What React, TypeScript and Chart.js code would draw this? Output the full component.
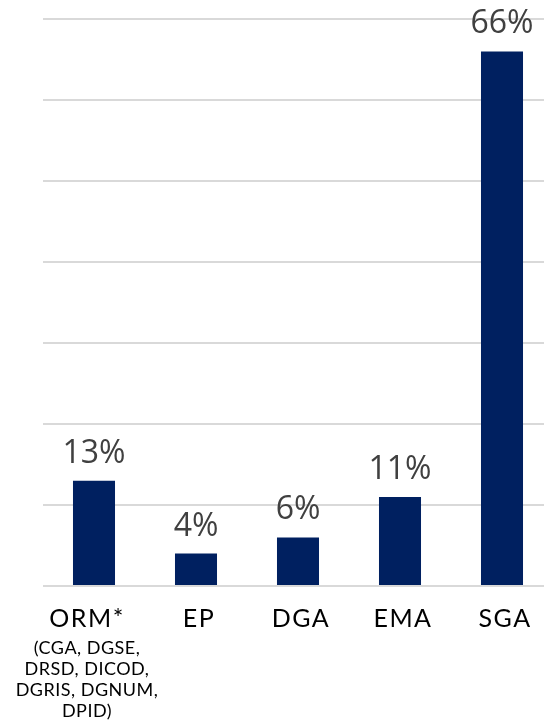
import React, { useEffect, useRef } from "react";
import { Chart, registerables } from "chart.js";

Chart.register(...registerables);

const categories = ["ORM*", "EP", "DGA", "EMA", "SGA"];
const values = [13, 4, 6, 11, 66];
const valueLabels = ["13%", "4%", "6%", "11%", "66%"];
const subLabels: string[][] = [
  ["(CGA, DGSE,", "DRSD, DICOD,", "DGRIS, DGNUM,", "DPID)"],
  [],
  [],
  [],
  [],
];

const BAR_COLOR = "#002060";
const GRID_COLOR = "#d9d9d9";
const VALUE_COLOR = "#404040";
const LABEL_COLOR = "#000000";

const labelsPlugin = {
  id: "customLabels",
  afterDatasetsDraw(chart: any) {
    const ctx = chart.ctx as CanvasRenderingContext2D;
    const meta = chart.getDatasetMeta(0);
    const bottom = chart.chartArea.bottom;
    ctx.save();
    meta.data.forEach((bar: any, i: number) => {
      const hasSub = subLabels[i].length > 0;
      // value labels
      ctx.fillStyle = VALUE_COLOR;
      ctx.font = "32px 'Open Sans'";
      ctx.textAlign = "center";
      ctx.textBaseline = "alphabetic";
      (ctx as any).letterSpacing = "0px";
      ctx.fillText(valueLabels[i], bar.x, bar.y - 18);
      // category labels
      ctx.fillStyle = LABEL_COLOR;
      ctx.font = "25px Lato";
      (ctx as any).letterSpacing = "1.5px";
      const cx = hasSub ? bar.x - 7 : bar.x + 3;
      ctx.fillText(categories[i], cx, bottom + 41);
      ctx.font = "18px Lato";
      (ctx as any).letterSpacing = "0.5px";
      subLabels[i].forEach((s, j) => {
        ctx.fillText(s, cx, bottom + 68 + j * 21);
      });
      (ctx as any).letterSpacing = "0px";
    });
    ctx.restore();
  },
};

export default function App() {
  const ref = useRef<HTMLCanvasElement | null>(null);
  useEffect(() => {
    if (!ref.current) return;
    const chart = new Chart(ref.current, {
      type: "bar",
      data: {
        labels: categories,
        datasets: [
          {
            data: values,
            backgroundColor: BAR_COLOR,
            borderWidth: 0,
            barPercentage: 0.412,
            categoryPercentage: 1,
          },
        ],
      },
      options: {
        responsive: false,
        animation: false,
        devicePixelRatio: 1,
        layout: { padding: { left: 43, right: 7, top: 19, bottom: 0 } },
        plugins: {
          legend: { display: false },
          tooltip: { enabled: false },
        },
        scales: {
          x: {
            grid: { display: false, drawTicks: false },
            border: { display: false },
            ticks: { display: false },
            afterFit: (scale: any) => {
              scale.height = 138;
            },
          },
          y: {
            min: 0,
            max: 70,
            ticks: { display: false, stepSize: 10 },
            grid: { color: GRID_COLOR, lineWidth: 2, drawTicks: false },
            border: { display: false },
            afterFit: (scale: any) => {
              scale.width = 0;
            },
          },
        },
      },
      plugins: [labelsPlugin],
    });
    return () => chart.destroy();
  }, []);
  return (
    <div
      style={{
        position: "fixed",
        left: 0,
        top: 0,
        width: 544,
        height: 724,
        overflow: "hidden",
        background: "#ffffff",
      }}
    >
      <canvas
        ref={ref}
        width={560}
        height={724}
        style={{ position: "absolute", left: 0, top: 0, width: 560, height: 724 }}
      />
    </div>
  );
}
